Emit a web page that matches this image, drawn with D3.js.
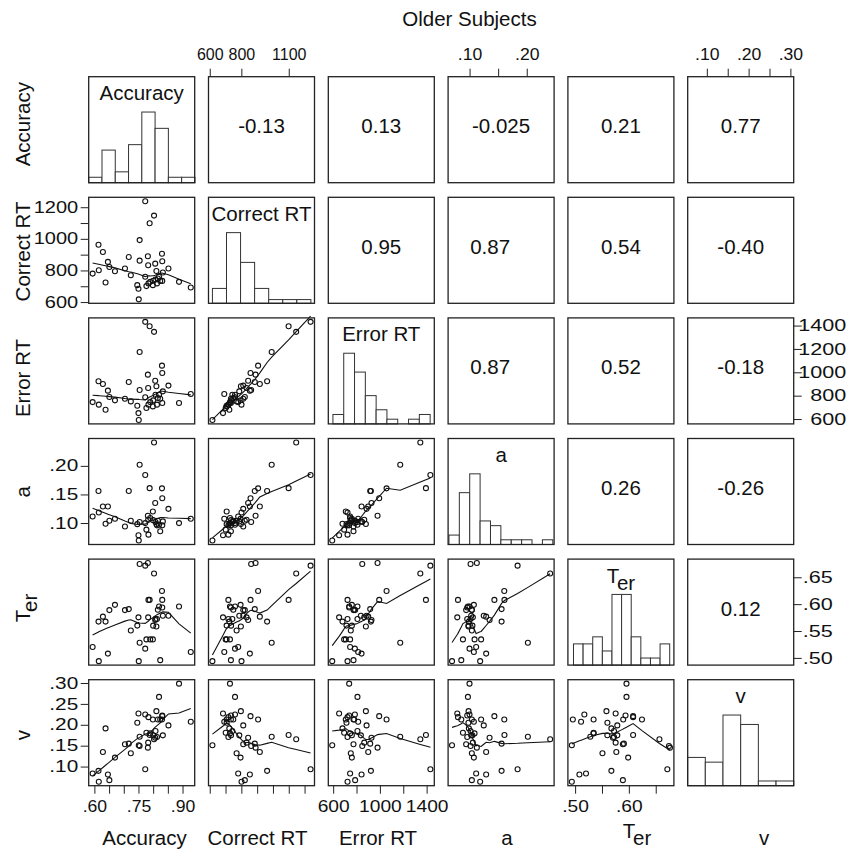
<!DOCTYPE html>
<html>
<head>
<meta charset="utf-8">
<script src="https://cdn.jsdelivr.net/npm/d3@7"></script>
<style>
  body { margin: 0; background: #fff; }
  svg { font-family: "Liberation Sans", Arial, Helvetica, sans-serif; }
</style>
</head>
<body>
<svg id="chart" width="848" height="849"></svg>
<script>
// one value per subject (41 older subjects)
var accuracy  = [.594,.614,.615,.629,.638,.646,.651,.670,.704,.717,.724,.746,.750,.751,.754,.754,.773,.773,.777,.782,.783,.784,.788,.790,.799,.803,.807,.808,.811,.813,.816,.820,.824,.830,.831,.831,.833,.852,.888,.928,.800];
var correctRT = [780,963,801,917,724,854,822,795,812,885,770,707,684,617,992,862,1238,760,701,890,833,718,1099,728,707,1147,843,743,797,718,749,760,734,906,858,734,787,812,728,692,735];
var errorRT   = [745,923,723,900,680,843,788,760,774,917,751,714,651,592,1174,849,1432,786,694,980,866,723,1394,745,708,1346,928,808,880,723,780,808,774,1057,994,737,837,886,737,814,760];
var aParam    = [.1115,.156,.1185,.129,.0988,.129,.104,.1075,.094,.156,.104,.098,.0785,.0693,.202,.1017,.184,.0999,.0884,.1127,.1057,.0797,.161,.1087,.1202,.241,.135,.1017,.0982,.0959,.104,.0971,.0855,.1607,.1434,.0959,.1028,.1248,.0999,.1075,.105];
var ter       = [.5203,.5675,.4939,.5767,.5675,.5080,.5889,.5987,.5889,.5908,.5509,.5601,.5754,.4939,.5283,.6746,.6716,.5172,.5344,.6765,.5754,.6079,.6079,.5344,.5344,.6569,.5705,.5724,.5583,.5724,.5895,.5956,.4958,.6244,.6079,.5938,.5785,.5785,.5956,.5111,.56];
var vDrift    = [.0834,.0898,.0636,.135,.1914,.081,.0675,.1215,.1533,.1548,.1318,.2048,.2271,.1509,.1715,.1493,.0937,.2247,.181,.1453,.1572,.2183,.1755,.1794,.2128,.1652,.1691,.185,.2326,.1707,.2128,.2667,.2128,.2128,.2207,.2223,.1747,.1985,.2985,.2072,.175];

var varLabels = ["Accuracy", "Correct RT", "Error RT", "a", "T", "v"];
var varSubs   = ["", "", "", "", "er", ""];

// histogram counts on the diagonal, and the span of the bins
var accHist = [1,6,2,7,13,10,1,1];
var crtHist = [4,19,11,4,1,1,1];
var ertHist = [2,15,11,6,3,1,0,1,2];
var aHist   = [2,11,15,5,4,1,1,1,0,1];
var terHist = [3,3,4,2,10,10,4,1,1,3];
var vHist   = [6,5,15,13,1,1];
var histRange = [[.5807,.9421],[617,1240],[598,1430],[.0639,.2456],[.497,.676],[.054,.308]];

// printed correlations, upper triangle
var corrText = [
  ["-0.13", "0.13", "-0.025", "0.21", "0.77"],
  ["0.95", "0.87", "0.54", "-0.40"],
  ["0.87", "0.52", "-0.18"],
  ["0.26", "-0.26"],
  ["0.12"]
];

// tick values and which of them carry a label
var accTicks = [.60,.65,.70,.75,.80,.85,.90], accLabeled = [.60,.75,.90];
var crtTopTicks = [600,800,1100];
var crtTicks = [600,700,800,900,1000,1100,1200], crtLeftLabeled = [600,800,1000,1200];
var ertTicks = [600,800,1000,1200,1400], ertBottomLabeled = [600,1000,1400];
var aTicks = [.10,.15,.20], aTopLabeled = [.10,.20];
var terTicks = [.50,.55,.60,.65], terBottomLabeled = [.50,.60];
var vTicks = [.10,.15,.20,.25,.30], vTopLabeled = [.10,.20,.30];

var vars = [accuracy, correctRT, errorRT, aParam, ter, vDrift];
var hists = [accHist, crtHist, ertHist, aHist, terHist, vHist];

// ---- layout ----
var S = 106;
function colX(j) { return 88.7 + j * 119.8; }
function rowY(i) { return 76.7 + i * 120.6; }
var ink = "#222";

var svg = d3.select("#chart");

// R-style range: data extent padded by 4%
var xs = [], ys = [];
vars.forEach(function(arr, k) {
  var ext = d3.extent(arr), pad = (ext[1] - ext[0]) * 0.04;
  var dom = [ext[0] - pad, ext[1] + pad];
  xs[k] = d3.scaleLinear().domain(dom).range([colX(k), colX(k) + S]);
  ys[k] = d3.scaleLinear().domain(dom).range([rowY(k) + S, rowY(k)]);
});

// lowess as in R (f = 2/3, iter = 3)
function lowess(xv, yv, f, iter) {
  var n = xv.length;
  var order = d3.range(n).sort(function(p, q) { return xv[p] - xv[q]; });
  var x = order.map(function(k) { return xv[k]; });
  var y = order.map(function(k) { return yv[k]; });
  var ns = Math.max(2, Math.min(n, Math.floor(f * n + 1e-7)));
  var range = x[n - 1] - x[0];
  var rw = new Array(n).fill(1), fit = new Array(n).fill(0);
  for (var it = 0; it <= iter; it++) {
    var nleft = 0, nright = ns - 1;
    for (var i = 0; i < n; i++) {
      while (nright < n - 1 && x[i] - x[nleft] > x[nright + 1] - x[i]) { nleft++; nright++; }
      var h = Math.max(x[i] - x[nleft], x[nright] - x[i]);
      var h9 = 0.999 * h, h1 = 0.001 * h;
      var w = new Array(n).fill(0), a = 0, j;
      for (j = 0; j < n; j++) {
        var r = Math.abs(x[j] - x[i]);
        if (r <= h9) {
          w[j] = (r <= h1 ? 1 : Math.pow(1 - Math.pow(r / h, 3), 3)) * rw[j];
          a += w[j];
        }
      }
      if (a <= 0) { fit[i] = y[i]; continue; }
      for (j = 0; j < n; j++) w[j] /= a;
      if (h > 0) {
        var b = 0, c = 0;
        for (j = 0; j < n; j++) b += w[j] * x[j];
        for (j = 0; j < n; j++) c += w[j] * (x[j] - b) * (x[j] - b);
        if (Math.sqrt(c) > 0.001 * range) {
          var bb = (x[i] - b) / c;
          for (j = 0; j < n; j++) w[j] *= (bb * (x[j] - b) + 1);
        }
      }
      var s = 0;
      for (j = 0; j < n; j++) s += w[j] * y[j];
      fit[i] = s;
    }
    if (it === iter) break;
    var res = y.map(function(v, k) { return v - fit[k]; });
    var absr = res.map(Math.abs).sort(function(p, q) { return p - q; });
    var m = Math.floor(n / 2);
    var cmad = n % 2 ? 6 * absr[m] : 3 * (absr[m - 1] + absr[m]);
    if (cmad < 1e-7 * d3.mean(y, Math.abs)) break;
    rw = res.map(function(rv) {
      var ar = Math.abs(rv);
      if (ar <= 0.001 * cmad) return 1;
      if (ar > 0.999 * cmad) return 0;
      return Math.pow(1 - (ar / cmad) * (ar / cmad), 2);
    });
  }
  return x.map(function(v, k) { return [v, fit[k]]; });
}

var line = d3.line();

for (var i = 0; i < 6; i++) {
  for (var j = 0; j < 6; j++) {
    var cell = svg.append("g");
    if (i === j) {
      var counts = hists[i], lo = histRange[i][0], hi = histRange[i][1];
      var bw = (hi - lo) / counts.length, maxC = d3.max(counts);
      var hy = d3.scaleLinear().domain([0, maxC * 1.5]).range([rowY(i) + S, rowY(i)]);
      cell.selectAll("rect.bar").data(counts).enter().append("rect")
        .attr("x", function(d, b) { return xs[i](lo + b * bw); })
        .attr("width", function(d, b) { return xs[i](lo + (b + 1) * bw) - xs[i](lo + b * bw); })
        .attr("y", function(d) { return hy(d); })
        .attr("height", function(d) { return hy(0) - hy(d); })
        .attr("fill", "#fff").attr("stroke", "#333").attr("stroke-width", 1);
      var t = cell.append("text")
        .attr("x", colX(j) + S / 2).attr("y", rowY(i) + 23.5)
        .attr("text-anchor", "middle").attr("font-size", 20.5).attr("fill", "#111");
      t.append("tspan").text(varLabels[i]);
      if (varSubs[i]) t.append("tspan").attr("dy", 7).text(varSubs[i]);
    } else if (i < j) {
      var nudge = (j === 3 && (i === 1 || i === 2)) ? -11 : 0;
      cell.append("text")
        .attr("x", colX(j) + S / 2 + nudge).attr("y", rowY(i) + 56.5)
        .attr("text-anchor", "middle").attr("font-size", 20.5).attr("fill", "#111")
        .text(corrText[i][j - i - 1]);
    } else {
      var xv = vars[j], yv = vars[i];
      cell.selectAll("circle").data(d3.range(xv.length)).enter().append("circle")
        .attr("cx", function(k) { return xs[j](xv[k]); })
        .attr("cy", function(k) { return ys[i](yv[k]); })
        .attr("r", 2.5).attr("fill", "none").attr("stroke", "#111").attr("stroke-width", 1.1);
      var sm = lowess(xv, yv, 2 / 3, 3).map(function(p) { return [xs[j](p[0]), ys[i](p[1])]; });
      cell.append("path").attr("d", line(sm))
        .attr("fill", "none").attr("stroke", "#111").attr("stroke-width", 1.1);
    }
    cell.append("rect")
      .attr("x", colX(j)).attr("y", rowY(i)).attr("width", S).attr("height", S)
      .attr("fill", "none").attr("stroke", ink).attr("stroke-width", 1.3);
  }
}

// ---- axes ----
function decFmt(d) { return d3.format(".2f")(d).replace(/^0/, ""); }
function intFmt(d) { return String(d); }

var axisSpecs = [
  { k: 0, side: "bottom", ticks: accTicks, labeled: accLabeled, fmt: decFmt, stretch: 1.1 },
  { k: 1, side: "top", ticks: crtTopTicks, labeled: crtTopTicks, fmt: intFmt, stretch: 1.0 },
  { k: 1, side: "bottom", ticks: crtTicks, labeled: [], fmt: intFmt, stretch: 1.0 },
  { k: 2, side: "bottom", ticks: ertTicks, labeled: ertBottomLabeled, fmt: intFmt, stretch: 1.2 },
  { k: 3, side: "top", ticks: aTicks, labeled: aTopLabeled, fmt: decFmt, stretch: 1.1 },
  { k: 4, side: "bottom", ticks: terTicks, labeled: terBottomLabeled, fmt: decFmt, stretch: 1.2 },
  { k: 5, side: "top", ticks: vTicks, labeled: vTopLabeled, fmt: decFmt, stretch: 1.1 },
  { k: 1, side: "left", ticks: crtTicks, labeled: crtLeftLabeled, fmt: intFmt, stretch: 1.25 },
  { k: 2, side: "right", ticks: ertTicks, labeled: ertTicks, fmt: intFmt, stretch: 1.35, anchor: "end" },
  { k: 3, side: "left", ticks: aTicks, labeled: aTicks, fmt: decFmt, stretch: 1.3 },
  { k: 4, side: "right", ticks: terTicks, labeled: terTicks, fmt: decFmt, stretch: 1.35, anchor: "start" },
  { k: 5, side: "left", ticks: vTicks, labeled: vTicks, fmt: decFmt, stretch: 1.3 }
];

axisSpecs.forEach(function(sp) {
  var isLab = function(d) { return sp.labeled.some(function(l) { return Math.abs(l - d) < 1e-9; }); };
  var fmt = function(d) { return isLab(d) ? sp.fmt(d) : ""; };
  var ax, tr;
  if (sp.side === "bottom") { ax = d3.axisBottom(xs[sp.k]).tickPadding(7); tr = "translate(0," + (rowY(5) + S) + ")"; }
  if (sp.side === "top")    { ax = d3.axisTop(xs[sp.k]).tickPadding(8.5); tr = "translate(0," + rowY(0) + ")"; }
  if (sp.side === "left")   { ax = d3.axisLeft(ys[sp.k]).tickPadding(2.5); tr = "translate(" + colX(0) + ",0)"; }
  if (sp.side === "right")  { ax = d3.axisRight(ys[sp.k]).tickPadding(2); tr = "translate(" + (colX(5) + S) + ",0)"; }
  ax.tickValues(sp.ticks).tickFormat(fmt).tickSizeOuter(0).tickSizeInner(8);
  var g = svg.append("g").attr("transform", tr).call(ax);
  g.select(".domain").remove();
  g.attr("font-family", null).attr("font-size", null);
  g.selectAll(".tick line").attr("stroke", ink).attr("stroke-width", 1);
  var txt = g.selectAll(".tick text").attr("font-size", 16).attr("fill", "#111");
  if (sp.side === "left") {
    txt.attr("x", -10.5 / sp.stretch).attr("transform", "scale(" + sp.stretch + ",1)");
  } else if (sp.side === "right") {
    if (sp.anchor === "end") txt.attr("text-anchor", "end").attr("x", 52.5 / sp.stretch);
    else txt.attr("text-anchor", "start").attr("x", 9 / sp.stretch);
    txt.attr("transform", "scale(" + sp.stretch + ",1)");
  } else {
    txt.attr("transform", "scale(" + sp.stretch + ",1)");
  }
});

// ---- outer labels ----
svg.append("text").attr("x", 469.5).attr("y", 26).attr("text-anchor", "middle")
  .attr("font-size", 20.5).attr("fill", "#111").text("Older Subjects");

var bottomX = [144.5, 257.5, 378, 507, 637, 764];
var leftY = [124.2, 251.5, 378, 491.7, 608, 735];
varLabels.forEach(function(lab, k) {
  // the subscripted label sits a little higher so its subscript stays on the page
  var tb = svg.append("text").attr("x", bottomX[k]).attr("y", varSubs[k] ? 838 : 845)
    .attr("text-anchor", "middle").attr("font-size", 20.5).attr("fill", "#111");
  tb.append("tspan").text(lab);
  if (varSubs[k]) tb.append("tspan").attr("dy", 7).text(varSubs[k]);
  var tl = svg.append("text")
    .attr("transform", "translate(30," + leftY[k] + ") rotate(-90)")
    .attr("text-anchor", "middle").attr("font-size", 20.5).attr("fill", "#111");
  tl.append("tspan").text(lab);
  if (varSubs[k]) tl.append("tspan").attr("dy", 7).text(varSubs[k]);
});
</script>
</body>
</html>
